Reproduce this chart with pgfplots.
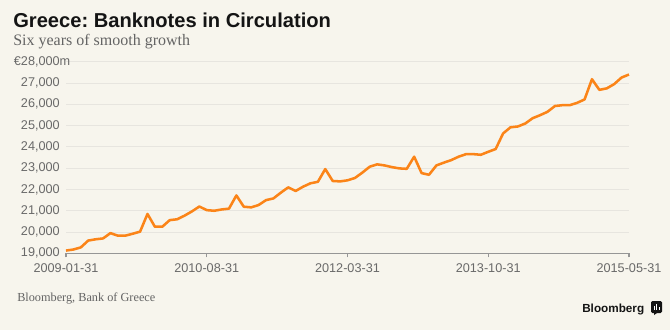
\documentclass[border=0pt]{standalone}
\usepackage{fontspec}
\setmainfont{Liberation Serif}
\newfontfamily\sans{Liberation Sans}
\usepackage{pgfplots}
\pgfplotsset{compat=1.18}
\frenchspacing
\definecolor{bg}{RGB}{247,245,237}
\definecolor{gridc}{RGB}{231,229,223}
\definecolor{axisc}{RGB}{150,150,150}
\definecolor{labc}{RGB}{105,105,105}
\definecolor{linec}{RGB}{251,132,24}
\definecolor{titc}{RGB}{20,20,20}
\definecolor{subc}{RGB}{100,100,100}
\begin{document}
\begin{tikzpicture}[x=0.75pt,y=0.75pt]
\fill[bg] (0,0) rectangle (670,330);
\begin{axis}[
  at={(49.5pt,57.5pt)}, anchor=south west,
  scale only axis, width=422.25pt, height=143.7pt,
  xmin=0, xmax=76, ymin=19000, ymax=28000,
  axis x line=bottom, axis y line=left,
  axis line style={-},
  x axis line style={axisc, line width=0.8pt},
  y axis line style={draw=none},
  scaled y ticks=false, scaled x ticks=false,
  xtick={0,19,38,57,76},
  xticklabels={2009-01-31,2010-08-31,2012-03-31,2013-10-31,2015-05-31},
  ytick={19000,20000,...,28000},
  yticklabels={19{,}000,20{,}000,21{,}000,22{,}000,23{,}000,24{,}000,25{,}000,26{,}000,27{,}000,\llap{€}28{,}000\rlap{m}},
  xtick align=outside, major tick length=3pt,
  xtick style={axisc, line width=0.8pt},
  ytick style={draw=none},
  ymajorgrids, grid style={gridc, line width=0.7pt},
  /pgf/number format/assume math mode=true,
  ticklabel style={font=\sans\fontsize{9.5}{11}\selectfont, text=labc},
  yticklabel style={inner sep=0pt, xshift=-3pt},
  xticklabel style={inner sep=0pt, yshift=-4.5pt},
  clip=false,
]
\addplot[linec, line width=1.9pt, line join=round, no markers] coordinates {
(0,19130)(1,19180)(2,19280)(3,19600)(4,19660)(5,19700)(6,19950)(7,19830)(8,19830)(9,19920)
(10,20020)(11,20850)(12,20250)(13,20250)(14,20560)(15,20600)(16,20770)(17,20970)(18,21200)(19,21030)
(20,21000)(21,21060)(22,21100)(23,21720)(24,21190)(25,21160)(26,21270)(27,21500)(28,21580)(29,21850)
(30,22100)(31,21930)(32,22130)(33,22290)(34,22360)(35,22960)(36,22400)(37,22380)(38,22430)(39,22540)
(40,22790)(41,23070)(42,23180)(43,23130)(44,23050)(45,22990)(46,22970)(47,23540)(48,22770)(49,22690)
(50,23130)(51,23260)(52,23380)(53,23540)(54,23660)(55,23660)(56,23630)(57,23770)(58,23900)(59,24630)
(60,24920)(61,24960)(62,25100)(63,25350)(64,25490)(65,25650)(66,25920)(67,25960)(68,25960)(69,26070)
(70,26230)(71,27180)(72,26680)(73,26750)(74,26950)(75,27260)(76,27400)
};
\end{axis}
\node[anchor=base west, inner sep=0pt, text=titc, font=\sans\bfseries\fontsize{15.1}{17}\selectfont] at (13,303) {Greece: Banknotes in Circulation};
\node[anchor=base west, inner sep=0pt, text=subc, font=\fontsize{12}{14}\selectfont] at (13,285) {Six years of smooth growth};
\node[anchor=base west, inner sep=0pt, text=subc, font=\fontsize{9.2}{11}\selectfont] at (17,29) {Bloomberg, Bank of Greece};
\node[anchor=base west, inner sep=0pt, text=titc, font=\sans\bfseries\fontsize{8.8}{10}\selectfont] at (582,17.5) {Bloomberg};
\fill[titc, rounded corners=1pt] (651,17) rectangle (662,29);
\fill[titc] (654,15) -- (657,17) -- (654,17) -- cycle;
\fill[white] (654,20) rectangle (655,24);
\fill[white] (656.3,20) rectangle (657.3,26);
\fill[white] (658.6,20) rectangle (659.6,23);
\end{tikzpicture}
\end{document}
